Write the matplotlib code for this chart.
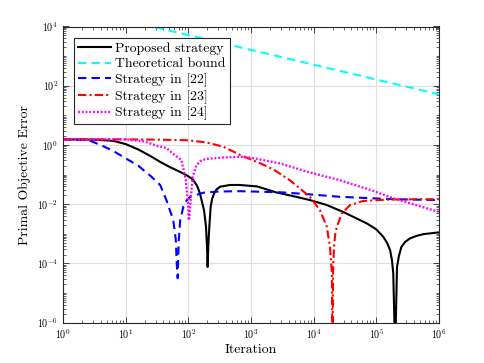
import numpy as np
import matplotlib
matplotlib.use("Agg")
import matplotlib.pyplot as plt
from matplotlib.ticker import FixedLocator, LogLocator, NullFormatter

plt.rcParams['mathtext.fontset'] = 'cm'
plt.rcParams['font.family'] = ['cmr10', 'DejaVu Serif']
plt.rcParams['axes.formatter.use_mathtext'] = True
plt.rcParams['axes.unicode_minus'] = False

# ---- data (log10 of iteration, log10 of error) ----
proposed_lx = [0, 0.5, 0.8, 1.0, 1.2, 1.4, 1.55, 1.7, 1.87, 1.97, 2.05, 2.08, 2.14, 2.186,
               2.25, 2.282, 2.298, 2.308, 2.318, 2.335, 2.356, 2.38, 2.41, 2.45, 2.505,
               2.665, 2.82, 3.1, 3.4, 3.7, 3.94, 4.2, 4.47, 4.85, 5.0, 5.11, 5.17, 5.22,
               5.25, 5.27, 5.30, 5.33, 5.36, 5.40, 5.46, 5.54, 5.64, 5.75, 6.0]
proposed_ly = [0.19, 0.18, 0.14, 0.03, -0.15, -0.38, -0.57, -0.74, -0.91, -1.02, -1.13,
               -1.19, -1.38, -1.64, -2.2, -2.76, -3.44, -4.12, -3.44, -2.76, -2.09, -1.82,
               -1.64, -1.5, -1.41, -1.35, -1.35, -1.4, -1.6, -1.74, -1.86, -2.02, -2.26,
               -2.65, -2.85, -3.10, -3.3, -3.55, -3.9, -4.33, -7.0, -4.12, -3.75, -3.44,
               -3.27, -3.15, -3.07, -3.01, -2.95]

bound_lx = [0, 1, 2, 3, 4, 5, 6]
bound_ly = [4.71, 4.21, 3.71, 3.21, 2.71, 2.21, 1.71]

s22_lx = [0, 0.4, 0.6, 0.8, 1.0, 1.2, 1.4, 1.55, 1.65, 1.76, 1.80, 1.815, 1.83, 1.845,
          1.87, 1.92, 1.97, 2.03, 2.24, 2.5, 2.83, 3.5, 3.89, 4.42, 5.26, 6.0]
s22_ly = [0.19, 0.17, 0.0, -0.2, -0.45, -0.7, -1.05, -1.35, -1.86, -2.54, -3.2, -4.0, -4.5,
          -3.3, -2.54, -2.09, -1.88, -1.75, -1.61, -1.57, -1.56, -1.6, -1.66, -1.75, -1.83,
          -1.86]

s23_lx = [0, 1.0, 1.5, 2.0, 2.3, 2.56, 2.83, 3.15, 3.36, 3.62, 3.94, 4.10, 4.21, 4.26,
          4.29, 4.30, 4.31, 4.324, 4.345, 4.37, 4.45, 4.58, 4.79, 5.22, 6.0]
s23_ly = [0.19, 0.19, 0.18, 0.16, 0.08, -0.06, -0.34, -0.62, -0.83, -1.19, -1.75, -2.2,
          -2.76, -3.44, -4.3, -7.0, -4.3, -3.44, -3.0, -2.76, -2.31, -2.03, -1.89, -1.84,
          -1.83]

s24_lx = [0, 1.0, 1.3, 1.5, 1.65, 1.76, 1.89, 1.96, 1.99, 2.01, 2.025, 2.04, 2.07, 2.13,
          2.21, 2.3, 2.56, 2.83, 3.0, 3.46, 3.89, 4.42, 4.95, 5.27, 6.0]
s24_ly = [0.19, 0.19, 0.12, -0.03, -0.1, -0.3, -0.51, -1.19, -1.86, -2.54, -2.2, -1.75,
          -1.07, -0.68, -0.51, -0.47, -0.42, -0.40, -0.43, -0.62, -0.9, -1.19, -1.55,
          -1.8, -2.26]

labels = ['Proposed strategy', 'Theoretical bound', 'Strategy in [22]',
          'Strategy in [23]', 'Strategy in [24]']
yticks = [1e-6, 1e-4, 1e-2, 1e0, 1e2, 1e4]
xticks = [1e0, 1e1, 1e2, 1e3, 1e4, 1e5, 1e6]

fig = plt.figure(figsize=(4.85, 3.63), dpi=100)
ax = fig.add_axes([63 / 485, 1 - 322.7 / 363, 376 / 485, 296.2 / 363])

def p(lx, ly):
    return 10 ** np.array(lx, float), 10 ** np.array(ly, float)

ax.plot(*p(proposed_lx, proposed_ly), color='black', lw=1.5, ls='-', label=labels[0])
ax.plot(*p(bound_lx, bound_ly), color=(0, 1, 1), lw=1.5, ls=(0, (4, 2.5)), label=labels[1])
ax.plot(*p(s22_lx, s22_ly), color=(0, 0, 1), lw=1.5, ls=(0, (4, 2.5)), label=labels[2])
ax.plot(*p(s23_lx, s23_ly), color=(1, 0, 0), lw=1.5, ls=(0, (4, 1.5, 1, 1.5)), label=labels[3])
ax.plot(*p(s24_lx, s24_ly), color=(1, 0, 1), lw=1.7, ls=(0, (0.8, 0.8)), label=labels[4])

ax.set_xscale('log')
ax.set_yscale('log')
ax.set_xlim(1, 1e6)
ax.set_ylim(1e-6, 1e4)

ax.xaxis.set_major_locator(FixedLocator(xticks))
ax.yaxis.set_major_locator(FixedLocator(yticks))
ax.xaxis.set_minor_locator(LogLocator(base=10, subs=np.arange(1, 10), numticks=100))
ax.yaxis.set_minor_locator(LogLocator(base=10, subs=np.arange(1, 10), numticks=100))
ax.xaxis.set_minor_formatter(NullFormatter())
ax.yaxis.set_minor_formatter(NullFormatter())

ax.grid(True, which='major', color='#dedede', lw=0.8)
ax.set_axisbelow(True)
ax.tick_params(which='both', direction='in', top=True, right=True, colors='#262626',
               labelcolor='black')
ax.tick_params(which='major', length=4, width=0.6, labelsize=7.2)
ax.tick_params(which='minor', length=2, width=0.5)
for s in ax.spines.values():
    s.set_color('#262626')
    s.set_linewidth(0.8)

ax.set_xlabel('Iteration', fontsize=9.9, labelpad=2)
ax.set_ylabel('Primal Objective Error', fontsize=9.9, labelpad=4)

leg = ax.legend(loc='upper left', bbox_to_anchor=(0.029, 0.961), borderaxespad=0,
                fontsize=9.9, handlelength=2.4, handletextpad=0.3, labelspacing=0.22,
                borderpad=0.3, fancybox=False, framealpha=1, edgecolor='#262626')
leg.get_frame().set_linewidth(0.8)

fig.savefig('out.png', dpi=100)
